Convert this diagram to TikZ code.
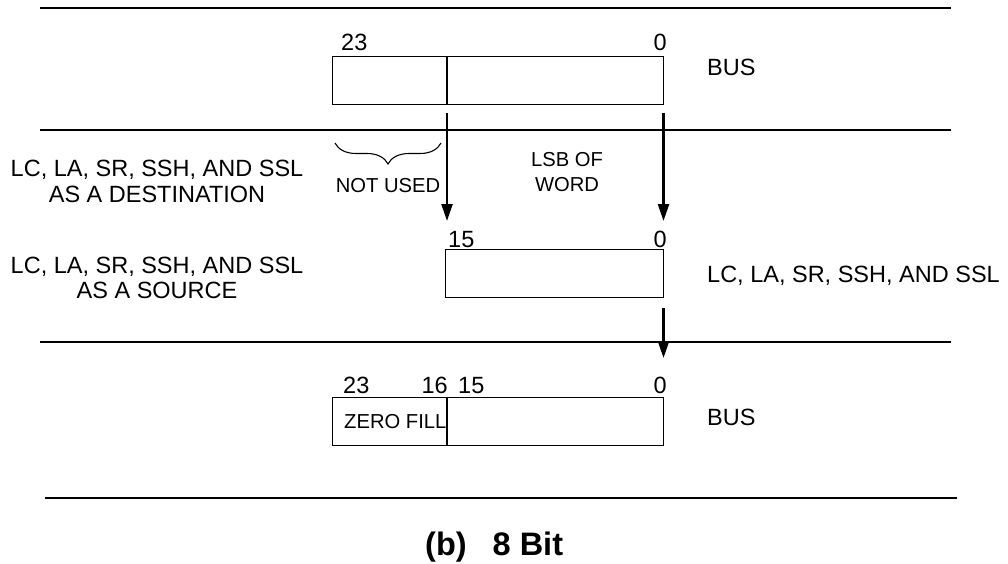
\documentclass[tikz,border=0pt]{standalone}
\usepackage{fontspec}
\setmainfont{Liberation Sans}
\usetikzlibrary{arrows.meta,decorations.pathreplacing}
\begin{document}
\begin{tikzpicture}[x=1pt,y=-1pt,
  rule/.style={line width=2.8pt},
  reg/.style={draw, line width=1.3pt, inner sep=0pt, anchor=north west, minimum height=48pt},
  divider/.style={line width=2.4pt},
  lab/.style={font=\fontsize{23.5}{25}\selectfont, inner sep=0pt},
  smalllab/.style={font=\fontsize{20.2}{24}\selectfont, inner sep=0pt, align=center},
  arr/.style={line width=2.4pt, -{Triangle[length=17pt,width=11pt]}},
  bracestyle/.style={line width=1.1pt, decorate, decoration={brace, amplitude=21pt, mirror}}]
\useasboundingbox (0,0) rectangle (1008,564);

% horizontal rules
\draw[rule] (40,8) -- (951,8);
\draw[rule] (40,130) -- (951,130);
\draw[rule] (40,342) -- (951,342);
\draw[rule] (45,498) -- (957,498);

% top register (BUS)
\node[reg, minimum width=331pt] (topreg) at (332,56) {};
\draw[divider] (447,56) -- (447,104);
\node[lab, anchor=base west] (t23) at (341,51) {23};
\node[lab, anchor=base east] (t0) at (667,51) {0};
\node[lab, anchor=base west] (tbus) at (707,76) {BUS};

% middle register
\node[reg, minimum width=218pt] (midreg) at (445,249) {};
\node[lab, anchor=base west] (m15) at (448,247) {15};
\node[lab, anchor=base east] (m0) at (667,247) {0};

% bottom register (BUS)
\node[reg, minimum width=331pt] (botreg) at (332,397) {};
\draw[divider] (447,397) -- (447,445);
\node[lab, anchor=base west] (b23) at (343,393) {23};
\node[lab, anchor=base east] (b16) at (448,393) {16};
\node[lab, anchor=base west] (b15) at (458,393) {15};
\node[lab, anchor=base east] (b0) at (667,393) {0};
\node[smalllab, anchor=base west] (zf) at (344,428) {ZERO FILL};
\node[lab, anchor=base west] (bbus) at (707,425) {BUS};

% arrows
\coordinate (a1s) at (447,113);
\coordinate (a1e) at (447,221);
\coordinate (a2s) at (663.5,113);
\coordinate (a2e) at (663.5,221);
\coordinate (a3s) at (663.5,308);
\coordinate (a3e) at (663.5,358);
\draw[arr] (a1s) -- (a1e);
\draw[arr] (a2s) -- (a2e);
\draw[arr] (a3s) -- (a3e);

% brace and labels
\draw[bracestyle] (335,143) -- (441,143);
\node[smalllab, anchor=base] (nu) at (388,192) {NOT USED};
\node[smalllab, anchor=base] (lsb1) at (567,167) {LSB OF};
\node[smalllab, anchor=base] (lsb2) at (567,191) {WORD};

% left labels
\node[lab, anchor=base] (d1) at (157,177) {LC, LA, SR, SSH, AND SSL};
\node[lab, anchor=base] (d2) at (157,202) {AS A DESTINATION};
\node[lab, anchor=base] (s1) at (157,273) {LC, LA, SR, SSH, AND SSL};
\node[lab, anchor=base] (s2) at (157,298) {AS A SOURCE};

% right label
\node[lab, anchor=base west] (r1) at (707,282) {LC, LA, SR, SSH, AND SSL};

% caption
\node[font=\bfseries\fontsize{32.5}{34}\selectfont, inner sep=0pt, anchor=base west] (cap) at (425,555) {(b)\hspace{26pt}8 Bit};
\end{tikzpicture}
\end{document}
